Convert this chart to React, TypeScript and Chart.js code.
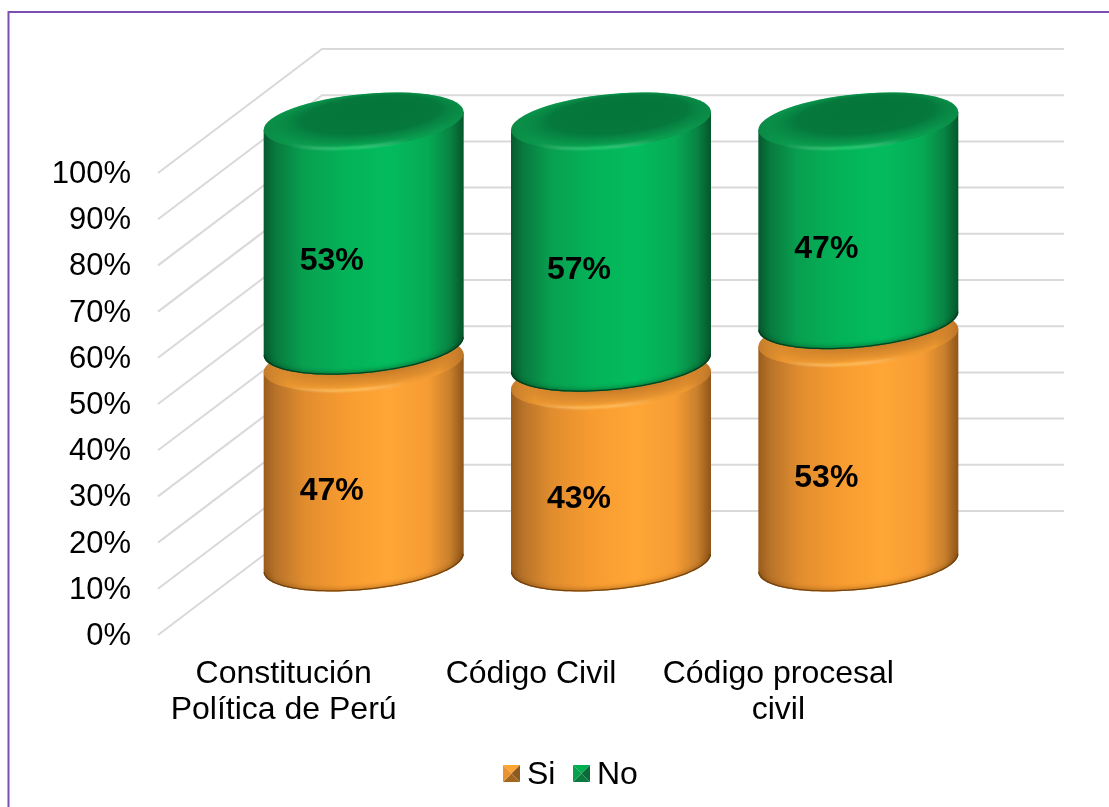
import React, { useEffect, useRef } from "react";
import { Chart, registerables } from "chart.js";

Chart.register(...registerables);

const categories = [
  ["Constitución", "Política de Perú"],
  ["Código Civil"],
  ["Código procesal", "civil"],
];
const siValues = [47, 43, 53];
const noValues = [53, 57, 47];
const axisTicks = [0, 10, 20, 30, 40, 50, 60, 70, 80, 90, 100];

const FONT = '"Liberation Sans", Arial, sans-serif';
const WIDTH = 1109;
const HEIGHT = 807;

// Projection of the 3D box: back wall relative to the front edge of the floor.
const DEPTH_X = 162;
const DEPTH_Y = -124;
const CYL_OFFSET_X = 80;
const CYL_RY = 27;
const CYL_SKEW = -9;
const STACK_GAP = 17;

type Palette = {
  body: [number, string][];
  lid: [number, string][];
  hollow: [number, string][];
  highlight: string;
  shade: string;
  key: [string, string, string, string];
};

const PALETTES: Palette[] = [
  {
    body: [
      [0, "#9a5c1c"],
      [0.06, "#b8732a"],
      [0.2, "#e08c2e"],
      [0.4, "#f79b30"],
      [0.62, "#ffa636"],
      [0.82, "#f69c34"],
      [0.93, "#c9802c"],
      [1, "#8f5519"],
    ],
    lid: [
      [0, "#c47c2c"],
      [0.12, "#e8952f"],
      [0.5, "#fba334"],
      [0.88, "#ee9932"],
      [1, "#b87328"],
    ],
    hollow: [
      [0, "rgba(200,122,38,1)"],
      [0.5, "rgba(200,122,38,0.95)"],
      [0.82, "rgba(205,128,42,0.5)"],
      [1, "rgba(205,128,42,0)"],
    ],
    highlight: "rgba(255,200,100,0.9)",
    shade: "rgba(110,62,10,0.9)",
    key: ["#ffa534", "#ea922f", "#8f5a1f", "#a3661f"],
  },
  {
    body: [
      [0, "#06592e"],
      [0.06, "#087a3e"],
      [0.2, "#08a050"],
      [0.4, "#04b258"],
      [0.62, "#03bc5e"],
      [0.82, "#06aa55"],
      [0.93, "#088443"],
      [1, "#05562b"],
    ],
    lid: [
      [0, "#0b8744"],
      [0.12, "#0a994c"],
      [0.5, "#07ae56"],
      [0.88, "#0a9c4f"],
      [1, "#0a8a45"],
    ],
    hollow: [
      [0, "rgba(5,118,58,1)"],
      [0.58, "rgba(5,120,60,1)"],
      [0.84, "rgba(8,135,68,0.7)"],
      [1, "rgba(10,145,75,0.2)"],
    ],
    highlight: "rgba(50,225,125,0.85)",
    shade: "rgba(2,60,28,0.95)",
    key: ["#00b050", "#07a04c", "#0a6a38", "#0a7a40"],
  },
];

function drawCylinder(
  ctx: CanvasRenderingContext2D,
  cx: number,
  topY: number,
  bottomY: number,
  rx: number,
  p: Palette,
) {
  const rim = (baseY: number, i: number, steps: number) => {
    const t = Math.PI - (Math.PI * i) / steps;
    return [
      cx + rx * Math.cos(t),
      baseY + CYL_SKEW * Math.cos(t) + CYL_RY * Math.sin(t),
    ];
  };

  // Side wall: straight edges closed by the front half of the floor ellipse.
  const body = new Path2D();
  body.moveTo(cx - rx, topY - CYL_SKEW);
  body.lineTo(cx - rx, bottomY - CYL_SKEW);
  for (let i = 1; i <= 60; i++) {
    const [x, y] = rim(bottomY, i, 60);
    body.lineTo(x, y);
  }
  body.lineTo(cx + rx, topY + CYL_SKEW);
  body.closePath();

  const wall = ctx.createLinearGradient(cx - rx, 0, cx + rx, 0);
  p.body.forEach(([o, c]) => wall.addColorStop(o, c));
  ctx.fillStyle = wall;
  ctx.fill(body);

  // Dark lip along the lower rim.
  ctx.save();
  ctx.clip(body);
  ctx.beginPath();
  for (let i = 0; i <= 60; i++) {
    const [x, y] = rim(bottomY, i, 60);
    ctx.lineTo(x, y);
  }
  ctx.strokeStyle = p.shade;
  ctx.shadowColor = p.shade;
  ctx.shadowBlur = 5;
  ctx.lineWidth = 2.5;
  ctx.stroke();
  ctx.restore();

  // Lid: a bevelled rim lit across its width, with the hollow set inside it.
  const lidFill = ctx.createLinearGradient(cx - rx, 0, cx + rx, 0);
  p.lid.forEach(([o, c]) => lidFill.addColorStop(o, c));
  ctx.save();
  ctx.transform(rx, CYL_SKEW, 0, CYL_RY, cx, topY);
  ctx.beginPath();
  ctx.arc(0, 0, 1, 0, Math.PI * 2);
  ctx.restore();
  ctx.fillStyle = lidFill;
  ctx.fill();

  ctx.save();
  ctx.transform(rx, CYL_SKEW, 0, CYL_RY, cx, topY);
  ctx.beginPath();
  ctx.arc(0, 0, 1, 0, Math.PI * 2);
  ctx.clip();
  const hollow = ctx.createRadialGradient(0.12, -0.4, 0.25, 0.04, -0.08, 1.0);
  p.hollow.forEach(([o, c]) => hollow.addColorStop(o, c));
  ctx.fillStyle = hollow;
  ctx.fillRect(-1, -1, 2, 2);
  ctx.restore();

  // Soft glint on the front of the rim.
  const glint = ctx.createLinearGradient(cx - 75, 0, cx + 45, 0);
  glint.addColorStop(0, "rgba(255,255,255,0)");
  glint.addColorStop(0.5, p.highlight);
  glint.addColorStop(1, "rgba(255,255,255,0)");
  ctx.save();
  ctx.beginPath();
  for (let i = 12; i <= 42; i++) {
    const [x, y] = rim(topY, i, 60);
    ctx.lineTo(x, y - 1);
  }
  ctx.strokeStyle = glint;
  ctx.lineWidth = 2;
  ctx.filter = "blur(0.8px)";
  ctx.stroke();
  ctx.restore();
}

const wallGrid = {
  id: "wallGrid",
  beforeDatasetsDraw(chart: any) {
    const { ctx, chartArea, scales } = chart;
    const left = chartArea.left - 2;
    const backX = left + DEPTH_X + 2;
    const backEnd = chartArea.right + DEPTH_X;
    ctx.save();
    ctx.strokeStyle = "#d9d9d9";
    ctx.lineWidth = 2;
    ctx.lineJoin = "miter";
    axisTicks.forEach((tick) => {
      const y = scales.y.getPixelForValue(tick);
      ctx.beginPath();
      ctx.moveTo(left, y);
      ctx.lineTo(backX, y + DEPTH_Y);
      ctx.lineTo(backEnd, y + DEPTH_Y);
      ctx.stroke();
    });
    ctx.restore();
  },
};

const cylinders = {
  id: "cylinders",
  // The stock rectangles are replaced by the cylinders painted below.
  beforeDatasetDraw() {
    return false;
  },
  afterDatasetsDraw(chart: any) {
    const { ctx } = chart;
    chart.data.datasets.forEach((ds: any, di: number) => {
      const meta = chart.getDatasetMeta(di);
      meta.data.forEach((bar: any) => {
        const gap = di > 0 ? STACK_GAP : 0;
        drawCylinder(
          ctx,
          bar.x + CYL_OFFSET_X,
          bar.y - gap,
          bar.base - gap,
          bar.width / 2,
          PALETTES[di],
        );
      });
    });
    ctx.save();
    ctx.fillStyle = "#000";
    ctx.font = `bold 32px ${FONT}`;
    ctx.textAlign = "center";
    ctx.textBaseline = "middle";
    chart.data.datasets.forEach((ds: any, di: number) => {
      const meta = chart.getDatasetMeta(di);
      meta.data.forEach((bar: any, i: number) => {
        const gap = di > 0 ? STACK_GAP : 0;
        ctx.fillText(
          `${ds.data[i]}%`,
          bar.x + 48,
          (bar.y + bar.base) / 2 - gap + 28,
        );
      });
    });
    ctx.restore();
  },
};

const frameAndKey = {
  id: "frameAndKey",
  beforeDraw(chart: any) {
    const { ctx } = chart;
    ctx.save();
    ctx.fillStyle = "#ffffff";
    ctx.fillRect(0, 0, WIDTH, HEIGHT);
    ctx.strokeStyle = "#7c4fb3";
    ctx.lineWidth = 2;
    ctx.beginPath();
    ctx.moveTo(8.5, HEIGHT);
    ctx.lineTo(8.5, 12);
    ctx.lineTo(WIDTH, 12);
    ctx.stroke();
    ctx.restore();
  },
  afterDraw(chart: any) {
    const { ctx } = chart;
    const keyXs = [503, 573];
    const keyY = 765;
    const size = 17;
    ctx.save();
    ctx.font = `32px ${FONT}`;
    ctx.textAlign = "left";
    ctx.textBaseline = "alphabetic";
    chart.data.datasets.forEach((ds: any, di: number) => {
      const x = keyXs[di];
      const [top, left, right, bottom] = PALETTES[di].key;
      const mx = x + size / 2;
      const my = keyY + size / 2;
      const corner = [
        [x, keyY],
        [x + size, keyY],
        [x + size, keyY + size],
        [x, keyY + size],
      ];
      [top, right, bottom, left].forEach((color, k) => {
        const a = corner[k];
        const b = corner[(k + 1) % 4];
        ctx.fillStyle = color;
        ctx.beginPath();
        ctx.moveTo(a[0], a[1]);
        ctx.lineTo(b[0], b[1]);
        ctx.lineTo(mx, my);
        ctx.closePath();
        ctx.fill();
      });
      ctx.fillStyle = "#000";
      ctx.fillText(ds.label, x + size + 7, 784);
    });
    ctx.restore();
  },
};

export default function App() {
  const ref = useRef<HTMLCanvasElement>(null);

  useEffect(() => {
    if (!ref.current) return;
    const pxPerUnit = 4.25;
    const floorAbove = 72; // cylinder floor sits this far above the axis zero
    const plotHeight = 462;
    const depthMin = -floorAbove / pxPerUnit;
    const chart = new Chart(ref.current, {
      type: "bar",
      data: {
        labels: categories,
        datasets: [
          {
            label: "Si",
            data: siValues,
            backgroundColor: "#f79b30",
            yAxisID: "depth",
          },
          {
            label: "No",
            data: noValues,
            backgroundColor: "#03b35a",
            yAxisID: "depth",
          },
        ],
      },
      options: {
        responsive: false,
        animation: false,
        layout: { padding: { left: 0, right: 207, top: 173, bottom: 0 } },
        datasets: { bar: { categoryPercentage: 1, barPercentage: 200 / 247.33 } },
        plugins: {
          legend: { display: false },
          tooltip: { enabled: false },
        },
        scales: {
          x: {
            stacked: true,
            grid: { display: false, drawTicks: false },
            border: { display: false },
            afterFit(scale: any) {
              scale.height = HEIGHT - 635;
            },
            ticks: {
              autoSkip: false,
              maxRotation: 0,
              minRotation: 0,
              padding: 21,
              color: "#000",
              font: { family: FONT, size: 32, lineHeight: 36 / 32 },
            },
          },
          y: {
            min: 0,
            max: 100,
            afterFit(scale: any) {
              scale.width = 160;
            },
            afterBuildTicks(scale: any) {
              scale.ticks = axisTicks.map((value) => ({ value }));
            },
            grid: { display: false, drawTicks: false },
            border: { display: false },
            ticks: {
              padding: 29,
              labelOffset: 1.5,
              color: "#000",
              font: { family: FONT, size: 31 },
              callback: (v: any) => `${v}%`,
            },
          },
          depth: {
            display: false,
            stacked: true,
            min: depthMin,
            max: depthMin + plotHeight / pxPerUnit,
          },
        },
      },
      plugins: [frameAndKey, wallGrid, cylinders],
    } as any);
    return () => chart.destroy();
  }, []);

  return (
    <div style={{ position: "fixed", left: 0, top: 0, width: WIDTH, height: HEIGHT }}>
      <canvas ref={ref} width={WIDTH} height={HEIGHT} style={{ display: "block" }} />
    </div>
  );
}
